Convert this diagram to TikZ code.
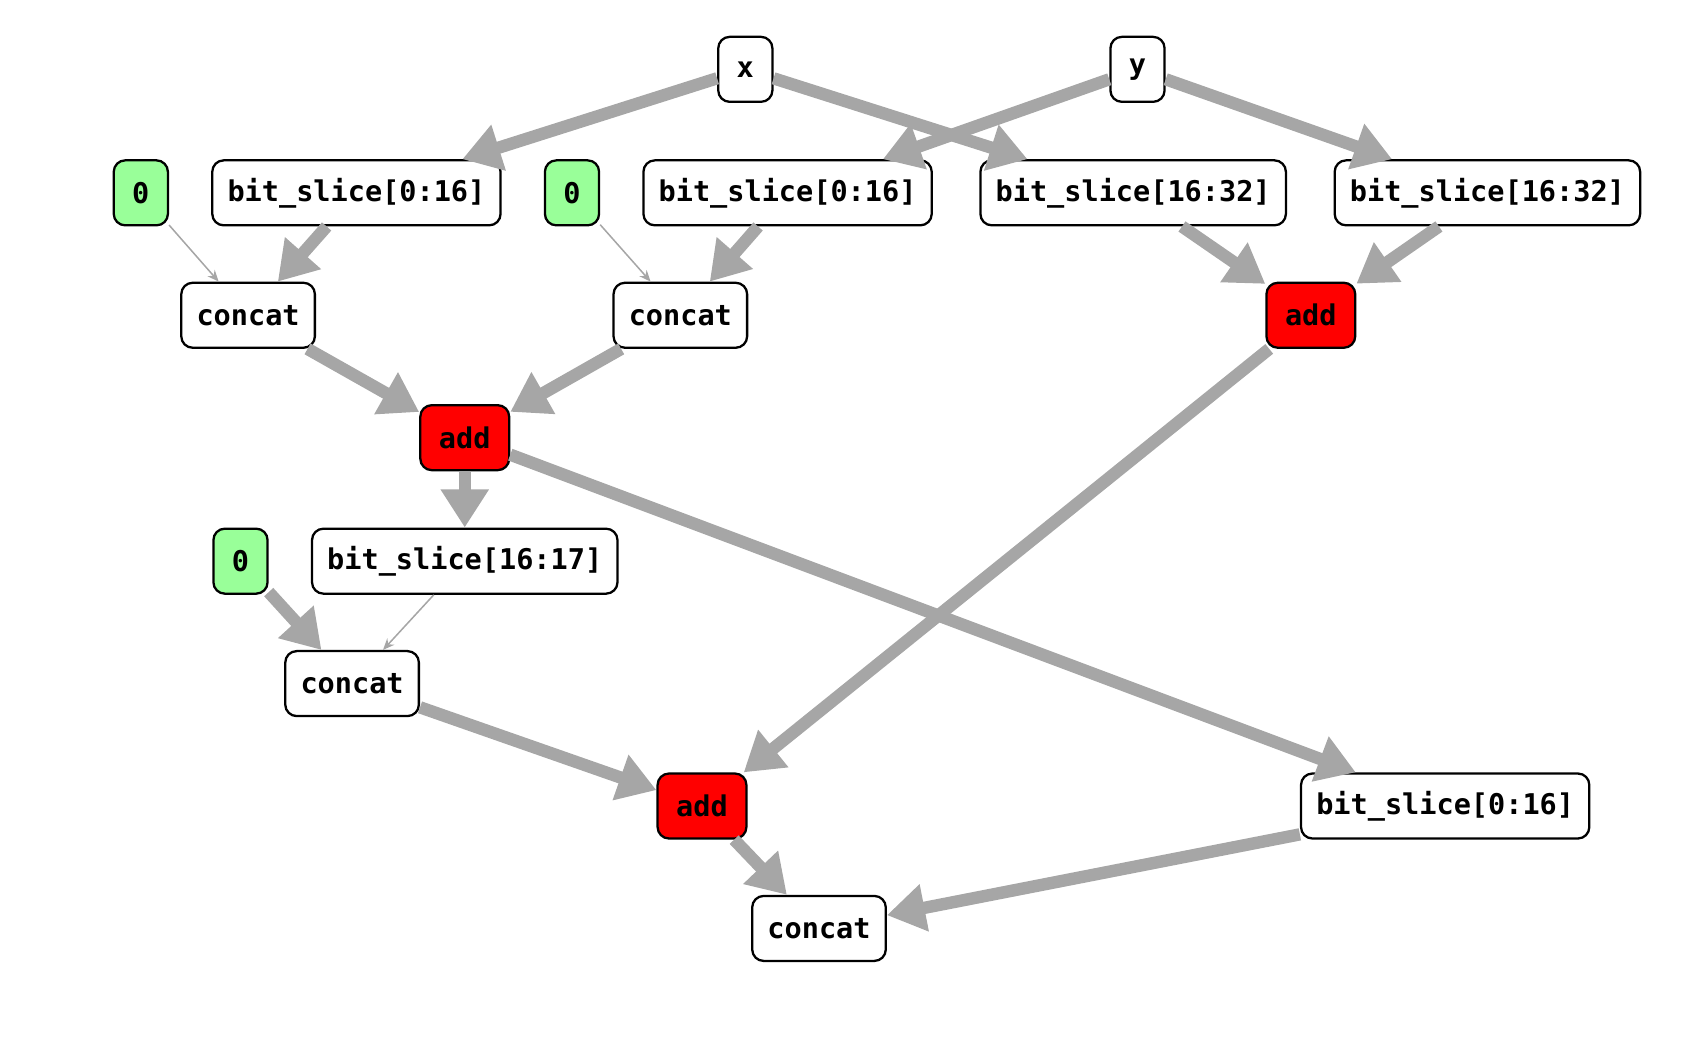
\documentclass[tikz,border=0pt]{standalone}
\usepackage{fontspec}
\setmainfont{DejaVu Sans Mono}
\usetikzlibrary{arrows.meta}
\tikzset{
  op/.style={draw,very thick,rounded corners=6pt,fill=white,minimum height=1.2cm,
    inner xsep=8pt,font=\fontsize{15}{18}\selectfont\bfseries},
  lit/.style={op,fill=green!40,minimum width=1cm,inner xsep=2pt},
  sum/.style={op,fill=red,minimum width=1.64cm},
  wide/.style={draw=gray!70,line width=6.5pt,-{Triangle[length=20pt,width=24pt]}},
  thin/.style={draw=gray!70,line width=0.8pt,-{Stealth[length=6pt,width=5pt]}}
}
\begin{document}
\begin{tikzpicture}[x=0.02cm,y=-0.02cm]
  \useasboundingbox (0,0) rectangle (1560,958);
  % inputs
  \node[op,minimum width=1cm] (x) at (688,64) {x};
  \node[op,minimum width=1cm] (y) at (1050,64) {y};
  % slices
  \node[lit] (z1) at (130,178) {0};
  \node[op] (bs1) at (329,178) {bit\_slice[0:16]};
  \node[lit] (z2) at (528,178) {0};
  \node[op] (bs2) at (727,178) {bit\_slice[0:16]};
  \node[op] (bs3) at (1046,178) {bit\_slice[16:32]};
  \node[op] (bs4) at (1373,178) {bit\_slice[16:32]};
  \node[op] (c1) at (229,291) {concat};
  \node[op] (c2) at (628,291) {concat};
  \node[sum] (add1) at (1210,291) {add};
  \node[sum] (add2) at (429,404) {add};
  \node[lit] (z3) at (222,518) {0};
  \node[op] (bs5) at (429,518) {bit\_slice[16:17]};
  \node[op] (c3) at (325,631) {concat};
  \node[sum] (add3) at (648,744) {add};
  \node[op] (bs6) at (1334,744) {bit\_slice[0:16]};
  \node[op] (c4) at (756,857) {concat};
  % edges
  \draw[wide] (x) -- (bs1);
  \draw[wide] (x) -- (bs3);
  \draw[wide] (y) -- (bs2);
  \draw[wide] (y) -- (bs4);
  \draw[thin] (z1) -- (c1);
  \draw[wide] (bs1) -- (c1);
  \draw[thin] (z2) -- (c2);
  \draw[wide] (bs2) -- (c2);
  \draw[wide] (bs3) -- (add1);
  \draw[wide] (bs4) -- (add1);
  \draw[wide] (c1) -- (add2);
  \draw[wide] (c2) -- (add2);
  \draw[wide] (add2) -- (bs5);
  \draw[wide] (add2) -- (bs6);
  \draw[wide] (add1) -- (add3);
  \draw[wide] (z3) -- (c3);
  \draw[thin] (bs5) -- (c3);
  \draw[wide] (c3) -- (add3);
  \draw[wide] (add3) -- (c4);
  \draw[wide] (bs6) -- (c4);
\end{tikzpicture}
\end{document}
